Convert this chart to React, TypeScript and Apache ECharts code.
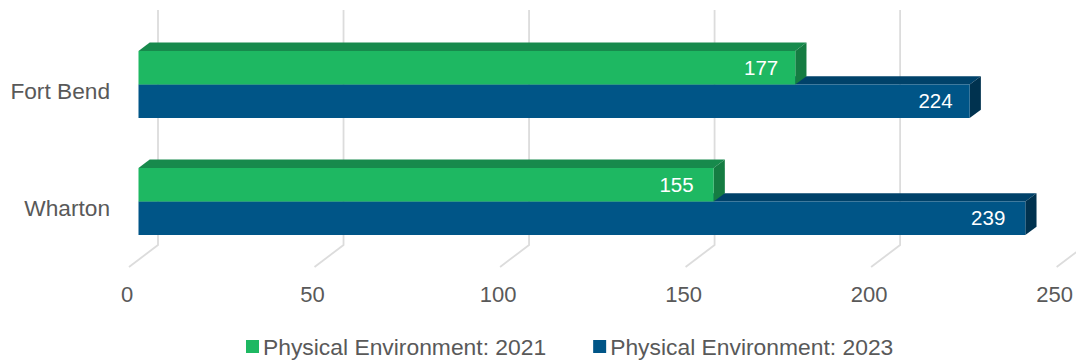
import React, { useEffect, useRef } from "react";
import * as echarts from "echarts";

const categories = ["Fort Bend", "Wharton"];
const values2021 = [177, 155];
const values2023 = [224, 239];
const xTicks = [0, 50, 100, 150, 200, 250];
const name2021 = "Physical Environment: 2021";
const name2023 = "Physical Environment: 2023";

const FONT = '"Liberation Sans", Arial, sans-serif';
const TEXT_COLOR = "#595959";
const GRID_COLOR = "#dcdcdc";

// Offsets of the faux-3D box relative to the axis scale
const PLANE_DX = 11.5;
const BAR_SHIFT_Y = -6.5;
const BAR_H = 33.6;
const DEPTH_X = 11.2;
const DEPTH_Y = 8.3;
// Distance of the value label from the bar's end, per category
const LABEL_INSET = [17, 20];

const palette2021 = { front: "#1eb862", top: "#178a4c", side: "#157c42" };
const palette2023 = { front: "#005587", top: "#00426a", side: "#00324f" };

// A horizontal box: front rectangle, top face, right face and a value label.
function boxRenderer(colors: { front: string; top: string; side: string }, above: boolean) {
  return (_params: any, api: any) => {
    const value = api.value(0);
    const row = api.value(1);
    const start = api.coord([0, row]);
    const end = api.coord([value, row]);
    const x0 = start[0] + PLANE_DX;
    const x1 = end[0] + PLANE_DX;
    const mid = start[1] + BAR_SHIFT_Y;
    const yTop = above ? mid - BAR_H : mid;
    const yBottom = yTop + BAR_H;
    return {
      type: "group",
      children: [
        {
          type: "polygon",
          shape: {
            points: [
              [x0, yTop],
              [x0 + DEPTH_X, yTop - DEPTH_Y],
              [x1 + DEPTH_X, yTop - DEPTH_Y],
              [x1, yTop],
            ],
          },
          style: { fill: colors.top },
        },
        {
          type: "polygon",
          shape: {
            points: [
              [x1, yTop],
              [x1 + DEPTH_X, yTop - DEPTH_Y],
              [x1 + DEPTH_X, yBottom - DEPTH_Y],
              [x1, yBottom],
            ],
          },
          style: { fill: colors.side },
        },
        {
          type: "rect",
          shape: { x: x0, y: yTop, width: x1 - x0, height: BAR_H },
          style: { fill: colors.front },
        },
        {
          type: "text",
          style: {
            x: x1 - LABEL_INSET[row],
            y: (yTop + yBottom) / 2 - 0.5,
            text: String(value),
            fill: "#ffffff",
            font: `20.5px ${FONT}`,
            align: "right",
            verticalAlign: "middle",
          },
        },
      ],
    };
  };
}

// Gridline running up the back wall, then folding forward along the floor.
function gridLineRenderer(_params: any, api: any) {
  const p = api.coord([api.value(0), 0]);
  const xFloor = p[0] + 2;
  const xBack = p[0] + 31;
  return {
    type: "polyline",
    shape: {
      points: [
        [xBack, 10],
        [xBack, 245],
        [xFloor, 267],
      ],
    },
    style: { stroke: GRID_COLOR, lineWidth: 1.8, fill: "none" },
  };
}

export default function App() {
  const ref = useRef<HTMLDivElement>(null);

  useEffect(() => {
    document.body.style.margin = "0";
    const chart = echarts.init(ref.current!, undefined, { renderer: "svg" });
    chart.setOption({
      animation: false,
      backgroundColor: "#ffffff",
      grid: { left: 127, top: 32.5, width: 928, height: 234 },
      xAxis: {
        type: "value",
        min: 0,
        max: 250,
        interval: 50,
        axisLine: { show: false },
        axisTick: { show: false },
        splitLine: { show: false },
        axisLabel: {
          color: TEXT_COLOR,
          fontFamily: FONT,
          fontSize: 22,
          margin: 16.5,
        },
      },
      yAxis: {
        type: "category",
        inverse: true,
        data: categories,
        axisLine: { show: false },
        axisTick: { show: false },
        axisLabel: {
          color: TEXT_COLOR,
          fontFamily: FONT,
          fontSize: 22.7,
          margin: 17,
        },
      },
      legend: {
        left: 246,
        top: 335,
        padding: 0,
        itemWidth: 13,
        itemHeight: 13,
        itemGap: 47,
        icon: "rect",
        data: [name2021, name2023],
        textStyle: {
          color: TEXT_COLOR,
          fontFamily: FONT,
          fontSize: 22.85,
          padding: [0, 0, 0, -1],
        },
      },
      series: [
        {
          type: "custom",
          silent: true,
          z: 1,
          data: xTicks.map((t) => [t]),
          encode: { x: 0 },
          renderItem: gridLineRenderer,
        },
        {
          type: "custom",
          name: name2023,
          z: 2,
          itemStyle: { color: palette2023.front },
          data: values2023.map((v, i) => [v, i]),
          encode: { x: 0, y: 1 },
          renderItem: boxRenderer(palette2023, false),
        },
        {
          type: "custom",
          name: name2021,
          z: 3,
          itemStyle: { color: palette2021.front },
          data: values2021.map((v, i) => [v, i]),
          encode: { x: 0, y: 1 },
          renderItem: boxRenderer(palette2021, true),
        },
      ],
    });
    return () => chart.dispose();
  }, []);

  return <div ref={ref} style={{ width: 1076, height: 362 }} />;
}
